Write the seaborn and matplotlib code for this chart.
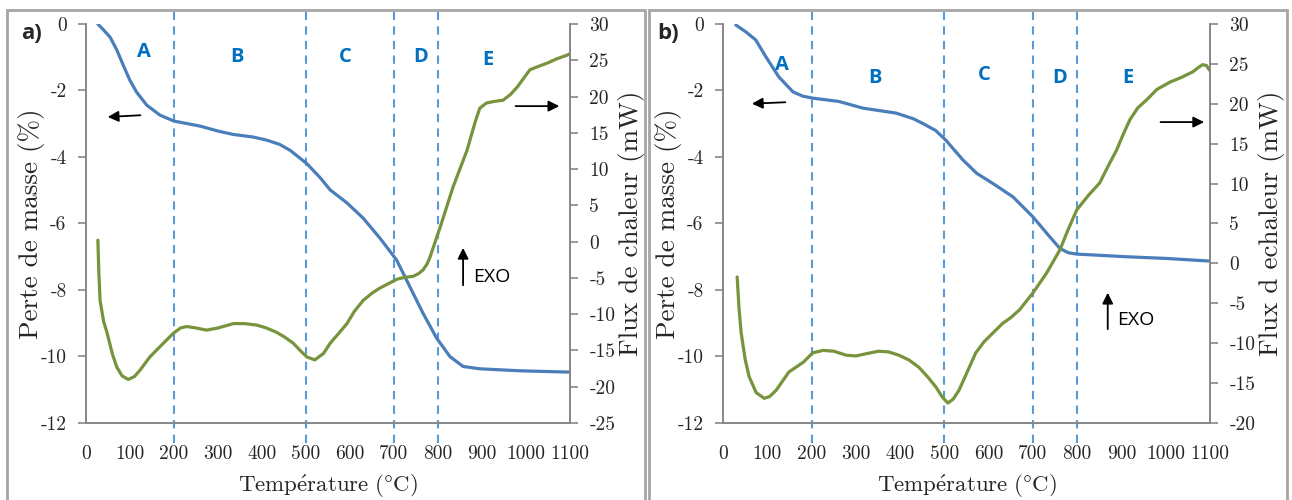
import matplotlib
matplotlib.use("Agg")
import matplotlib.pyplot as plt
from matplotlib.patches import Rectangle
from matplotlib.ticker import FuncFormatter
import numpy as np
import pandas as pd
import seaborn as sns

# ---- data ----
temp_mass_a = [27, 40, 55, 70, 85, 100, 115, 138, 168, 200, 259, 300, 334, 380, 410, 440,
               464, 502, 532, 555, 593, 630, 668, 706, 736, 766, 797, 827, 857, 895, 986,
               1100]
mass_a = [0.0, -0.18, -0.4, -0.78, -1.25, -1.7, -2.05, -2.44, -2.74, -2.92, -3.07, -3.22,
          -3.32, -3.4, -3.49, -3.62, -3.8, -4.2, -4.62, -4.99, -5.38, -5.84, -6.44, -7.1,
          -7.9, -8.7, -9.45, -10.0, -10.3, -10.37, -10.43, -10.47]

temp_heat_a = [27, 29, 32, 40, 48, 60, 70, 82, 96, 110, 123, 145, 176, 199, 215, 229, 250,
               274, 300, 335, 360, 388, 410, 433, 450, 471, 490, 502, 520, 540, 555, 575,
               593, 610, 630, 650, 668, 690, 706, 725, 743, 756, 766, 775, 782, 805, 834,
               866, 885, 895, 910, 925, 948, 965, 980, 1009, 1030, 1048, 1070, 1093, 1100]
heat_a = [0.2, -4.0, -8.1, -11.0, -12.6, -15.5, -17.3, -18.5, -19.0, -18.6, -17.7, -15.9,
          -14.0, -12.6, -11.9, -11.7, -11.9, -12.2, -11.9, -11.3, -11.3, -11.5, -11.9,
          -12.5, -13.1, -14.0, -15.2, -15.9, -16.3, -15.4, -14.0, -12.6, -11.3, -9.6,
          -8.1, -7.1, -6.4, -5.7, -5.2, -4.9, -4.8, -4.4, -3.9, -3.1, -2.1, 2.0, 7.5,
          12.6, 16.6, 18.4, 19.1, 19.3, 19.5, 20.3, 21.3, 23.7, 24.2, 24.6, 25.2, 25.7,
          25.9]

temp_mass_b = [29, 52, 74, 97, 126, 158, 180, 203, 262, 316, 391, 430, 451, 480, 503, 542,
               573, 610, 655, 700, 738, 761, 780, 799, 912, 1000, 1100]
mass_b = [-0.03, -0.24, -0.48, -0.99, -1.59, -2.04, -2.17, -2.23, -2.33, -2.53, -2.68,
          -2.85, -2.99, -3.2, -3.49, -4.09, -4.49, -4.8, -5.2, -5.8, -6.4, -6.75, -6.88,
          -6.92, -7.0, -7.05, -7.13]

temp_heat_b = [32, 36, 41, 50, 59, 75, 93, 105, 120, 149, 181, 203, 226, 250, 278, 300,
               325, 352, 375, 397, 420, 442, 462, 481, 496, 508, 520, 533, 550, 571, 590,
               610, 632, 650, 670, 700, 731, 761, 780, 799, 825, 851, 870, 889, 905, 919,
               937, 957, 980, 1009, 1035, 1061, 1075, 1083, 1092, 1099]
heat_b = [-1.7, -5.5, -8.7, -12.0, -14.2, -16.2, -16.9, -16.7, -15.9, -13.6, -12.4, -11.2,
          -10.9, -11.0, -11.5, -11.6, -11.3, -11.0, -11.1, -11.5, -12.1, -13.0, -14.2,
          -15.5, -16.8, -17.5, -17.0, -15.9, -13.8, -11.2, -9.8, -8.7, -7.5, -6.8, -5.8,
          -3.7, -1.2, 1.7, 4.3, 6.7, 8.5, 10.1, 12.2, 14.2, 16.3, 18.0, 19.5, 20.5, 21.8,
          22.7, 23.3, 24.0, 24.6, 24.9, 24.8, 24.2]

stage_bounds = [200, 500, 700, 800]
stage_names = ["A", "B", "C", "D", "E"]
stage_x = [132, 343, 589, 761, 914]
stage_y_a = [-0.84, -1.0, -1.0, -1.0, -1.08]
stage_y_b = [-1.23, -1.62, -1.53, -1.62, -1.62]

x_ticks = list(range(0, 1101, 100))
left_ticks = list(range(-12, 1, 2))

BLUE = "#4A7EBB"
GREEN = "#77933C"
DASH = "#5B9BD5"
LETTER = "#0070C0"
FRAME = "#A6A6A6"
SPINE = "#868686"

sns.set_theme(style="white")
plt.rcParams["font.family"] = ["cmr10", "DejaVu Serif"]
plt.rcParams["axes.unicode_minus"] = False
plt.rcParams["mathtext.fontset"] = "cm"

fig = plt.figure(figsize=(12.92, 5.0), dpi=100)

int_fmt = FuncFormatter(lambda v, p: f"{int(round(v))}")


def panel(rect, tag, tm, m, th, h, right_lim, right_label, sy, left_arrow, right_arrow, exo):
    ax = fig.add_axes(rect)
    ax2 = ax.twinx()
    df_m = pd.DataFrame({"T": tm, "v": m})
    df_h = pd.DataFrame({"T": th, "v": h})
    sns.lineplot(data=df_m, x="T", y="v", ax=ax, color=BLUE, lw=2.3, sort=False,
                 solid_joinstyle="round", solid_capstyle="round")
    sns.lineplot(data=df_h, x="T", y="v", ax=ax2, color=GREEN, lw=2.3, sort=False,
                 solid_joinstyle="round", solid_capstyle="round")

    ax.set_xlim(0, 1100)
    ax.set_ylim(-12, 0)
    ax2.set_ylim(*right_lim)
    ax.set_xticks(x_ticks)
    ax.set_yticks(left_ticks)
    ax2.set_yticks(list(range(right_lim[0], right_lim[1] + 1, 5)))
    for a in (ax, ax2):
        a.xaxis.set_major_formatter(int_fmt)
        a.yaxis.set_major_formatter(int_fmt)
        a.spines["top"].set_visible(False)
        for s in ("left", "right", "bottom"):
            a.spines[s].set_color(SPINE)
            a.spines[s].set_linewidth(1.2)
        a.tick_params(direction="out", length=6, width=1.2, color=SPINE,
                      labelsize=14, pad=3)
        a.set_facecolor("none")
    ax.tick_params(axis="x", pad=10)
    ax.tick_params(axis="y", pad=8)
    ax2.tick_params(axis="y", pad=8)

    for b in stage_bounds:
        ax.axvline(b, ymin=-0.05, ymax=1.035, color=DASH, lw=1.5, ls=(0, (4, 3)),
                   clip_on=False, zorder=0)
    for name, x, y in zip(stage_names, stage_x, sy):
        ax.text(x, y, name, color=LETTER, fontsize=14.5, fontweight="bold",
                family="Open Sans", ha="center", va="center")

    ax.set_xlabel(r"$\mathrm{Temp\acute{e}rature\ (\degree C)}$", fontsize=16.5)
    ax.xaxis.set_label_coords(0.5, -0.16)
    ax.xaxis.label.set_va("center")
    ax.set_ylabel("Perte de masse (%)", fontsize=19.5)
    ax.yaxis.set_label_coords(-0.112, 0.5)
    ax2.set_ylabel(right_label, fontsize=19.5, rotation=90)
    ax2.yaxis.set_label_coords(1.127, 0.5)
    ax2.yaxis.label.set_va("center")
    ax.yaxis.label.set_va("center")

    arrow = dict(arrowstyle="-|>", color="black", lw=1.3, mutation_scale=16)
    ax.annotate("", xy=left_arrow[1], xytext=left_arrow[0], arrowprops=arrow)
    ax.annotate("", xy=right_arrow[1], xytext=right_arrow[0], arrowprops=arrow,
                annotation_clip=False)
    ax.annotate("", xy=(exo[0], exo[2]), xytext=(exo[0], exo[1]), arrowprops=arrow)
    ax.text(exo[0] + 22, exo[3], "EXO", fontsize=14, family="Open Sans",
            ha="left", va="center", color="black")
    ax.text(-0.135, 0.975, tag, transform=ax.transAxes, fontsize=16, fontweight="bold",
            family="Open Sans", ha="left", va="center")
    return ax, ax2


panel([86 / 1292, 77 / 500, 484 / 1292, 399 / 500], "a)",
      temp_mass_a, mass_a, temp_heat_a, heat_a, (-25, 30), "Flux de chaleur (mW)",
      stage_y_a, ((130, -2.74), (43, -2.8)), ((970, -2.47), (1082, -2.47)),
      (857, -7.94, -6.65, -7.6))
panel([723 / 1292, 77 / 500, 487 / 1292, 399 / 500], "b)",
      temp_mass_b, mass_b, temp_heat_b, heat_b, (-20, 30), "Flux d echaleur (mW)",
      stage_y_b, ((147, -2.35), (59, -2.4)), ((982, -2.95), (1093, -2.95)),
      (869, -9.26, -8.0, -8.9))

fig.add_artist(Rectangle((7 / 1292, -0.02), 638 / 1292, 1.0, transform=fig.transFigure,
                         fill=False, ec=FRAME, lw=2))
fig.add_artist(Rectangle((649 / 1292, -0.02), 638 / 1292, 1.0, transform=fig.transFigure,
                         fill=False, ec=FRAME, lw=2))

fig.savefig("out.png", dpi=100)
